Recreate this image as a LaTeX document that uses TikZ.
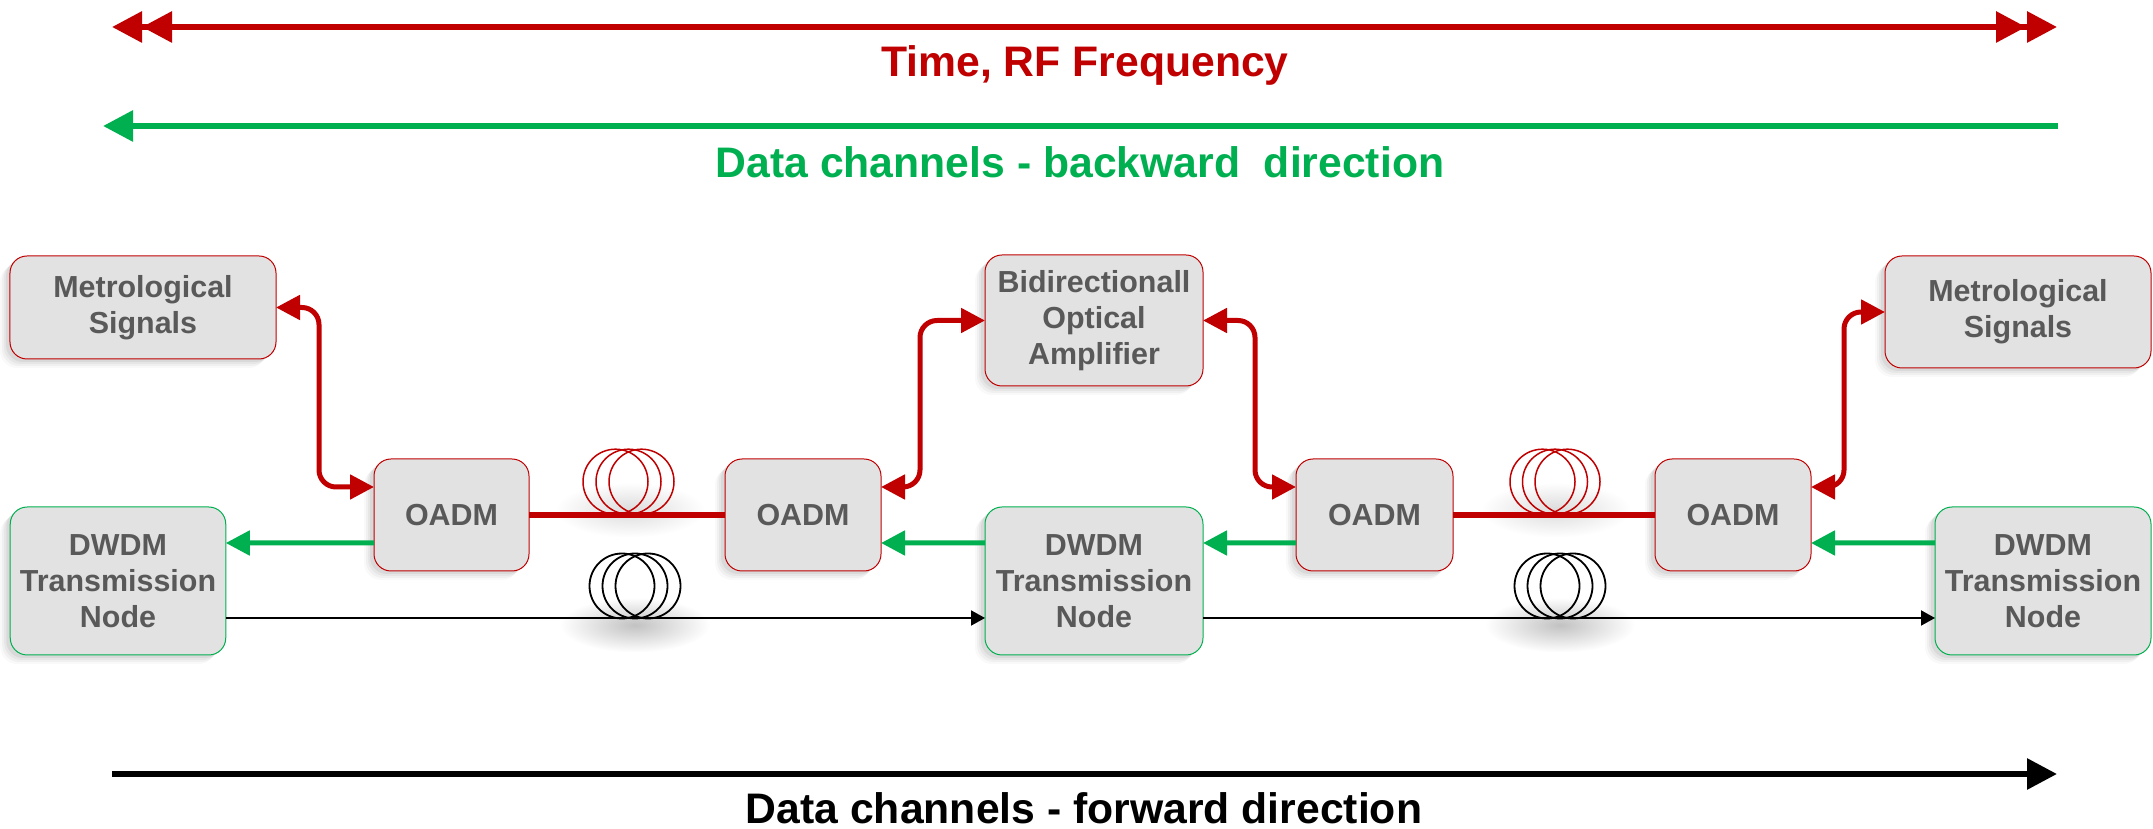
\documentclass[tikz,border=0pt]{standalone}
\usepackage{fontspec}
\setmainfont{Liberation Sans}
\usetikzlibrary{arrows.meta,shapes.geometric,shadows}
\definecolor{linkred}{HTML}{C00000}
\definecolor{linkgreen}{HTML}{00B050}
\definecolor{boxgray}{HTML}{E2E2E2}
\definecolor{labelgray}{HTML}{595959}
\tikzset{
    bigtip/.tip={Triangle[length=.3cm,width=.3cm]},
    midtip/.tip={Triangle[length=.24cm,width=.24cm]},
    smalltip/.tip={Triangle[length=.14cm,width=.15cm]},
    softshade/.style={
        general shadow={fill=black,opacity=.025,shadow xshift=-.10cm,shadow yshift=-.09cm},
        general shadow={fill=black,opacity=.035,shadow xshift=-.08cm,shadow yshift=-.07cm},
        general shadow={fill=black,opacity=.045,shadow xshift=-.06cm,shadow yshift=-.05cm},
        general shadow={fill=black,opacity=.055,shadow xshift=-.04cm,shadow yshift=-.03cm}},
    box/.style={rectangle,rounded corners=.17cm,fill=boxgray,line width=.01cm,inner sep=0pt,outer sep=0pt,
        align=center,text=labelgray,font=\fontsize{8.66}{10.3}\selectfont\bfseries,softshade},
    redbox/.style={box,draw=linkred,minimum height=1.12cm},
    dwdm/.style={box,draw=linkgreen,minimum height=1.48cm},
    coil/.style={circle,draw,minimum size=.65cm,inner sep=0pt},
    coilshade/.style={ellipse,inner color=black!#1,outer color=white,minimum width=1.5cm,minimum height=.55cm,inner sep=0pt},
    title/.style={inner sep=0pt,font=\fontsize{12.15}{14}\selectfont\bfseries}
}
\begin{document}
\begin{tikzpicture}
    \useasboundingbox (0,.015) rectangle (21.53,8.30);

    % top and bottom bars
    \coordinate (timeL) at (1.11,8.03);
    \coordinate (timeR) at (20.57,8.03);
    \coordinate (backL) at (1.03,7.04);
    \coordinate (backR) at (20.58,7.04);
    \coordinate (foreL) at (1.12,.56);
    \coordinate (foreR) at (20.57,.56);
    \draw[linkred,line width=.06cm,{bigtip[sep=.01cm]bigtip}-{bigtip[sep=.01cm]bigtip}] (timeL) -- (timeR);
    \draw[linkgreen,line width=.06cm,-{bigtip}] (backR) -- (backL);
    \draw[black,line width=.06cm,-{bigtip}] (foreL) -- (foreR);
    \node[title,text=linkred] (timeText) at (10.85,7.65) {Time, RF Frequency};
    \node[title,text=linkgreen] (backText) at (10.80,6.68) {Data channels - backward\ \ direction};
    \node[title,text=black] (foreText) at (10.84,.22) {Data channels - forward direction};

    % soft shade under the fibre spools
    \node[coilshade=14] (shadeA) at (6.30,3.20) {};
    \node[coilshade=14] (shadeB) at (15.56,3.20) {};
    \node[coilshade=24] (shadeC) at (6.35,2.05) {};
    \node[coilshade=24] (shadeD) at (15.60,2.05) {};

    \node[box,draw=linkred,minimum width=2.66cm,minimum height=1.03cm] (metroL) at (1.43,5.225) {Metrological\\Signals};
    \node[box,draw=linkred,minimum width=2.18cm,minimum height=1.31cm] (bidir) at (10.94,5.095) {Bidirectionall\\Optical\\Amplifier};
    \node[box,draw=linkred,minimum width=2.66cm,minimum height=1.12cm] (metroR) at (20.18,5.18) {Metrological\\Signals};

    \node[redbox,minimum width=1.55cm] (oadmA) at (4.515,3.15) {OADM};
    \node[redbox,minimum width=1.56cm] (oadmB) at (8.03,3.15) {OADM};
    \node[redbox,minimum width=1.57cm] (oadmC) at (13.745,3.15) {OADM};
    \node[redbox,minimum width=1.56cm] (oadmD) at (17.33,3.15) {OADM};

    \node[dwdm,minimum width=2.155cm] (dwdmL) at (1.18,2.49) {DWDM\\Transmission\\Node};
    \node[dwdm,minimum width=2.18cm] (dwdmM) at (10.94,2.49) {DWDM\\Transmission\\Node};
    \node[dwdm,minimum width=2.16cm] (dwdmR) at (20.43,2.49) {DWDM\\Transmission\\Node};

    % fibre spools
    \foreach \x / \n in {6.155/1,6.285/2,6.415/3,15.425/4,15.55/5,15.675/6}
        \node[coil,draw=linkred,line width=.015cm] (red\n) at (\x,3.483) {};
    \foreach \x / \n in {6.22/1,6.35/2,6.48/3,15.47/4,15.60/5,15.73/6}
        \node[coil,draw=black,line width=.018cm] (black\n) at (\x,2.44) {};

    \foreach \from / \to in {oadmA/oadmB,oadmC/oadmD}
        \draw[linkred,line width=.055cm] (\from.east) -- (\to.west);

    \foreach \from / \to in {oadmA/dwdmL,oadmC/dwdmM}
        \draw[linkgreen,line width=.05cm,-{midtip}] ([yshift=-.28cm]\from.west) -- ([yshift=.38cm]\to.east);
    \foreach \from / \to in {dwdmM/oadmB,dwdmR/oadmD}
        \draw[linkgreen,line width=.05cm,-{midtip}] ([yshift=.38cm]\from.west) -- ([yshift=-.28cm]\to.east);

    \foreach \from / \to in {dwdmL/dwdmM,dwdmM/dwdmR}
        \draw[black,line width=.02cm,-{smalltip}] ([yshift=-.37cm]\from.east) -- ([yshift=-.37cm]\to.west);

    % metrology links
    \draw[linkred,line width=.05cm,rounded corners=.17cm,{midtip}-{midtip}] (metroL.east) -- ++(.43,0) |- ([yshift=.28cm]oadmA.west);
    \draw[linkred,line width=.05cm,rounded corners=.17cm,{midtip}-{midtip}] ([yshift=.28cm]oadmB.east) -- ++(.39,0) |- (bidir.west);
    \draw[linkred,line width=.05cm,rounded corners=.17cm,{midtip}-{midtip}] (bidir.east) -- ++(.52,0) |- ([yshift=.28cm]oadmC.west);
    \draw[linkred,line width=.05cm,rounded corners=.17cm,{midtip}-{midtip}] ([yshift=.28cm]oadmD.east) -- ++(.33,0) |- (metroR.west);
\end{tikzpicture}
\end{document}
